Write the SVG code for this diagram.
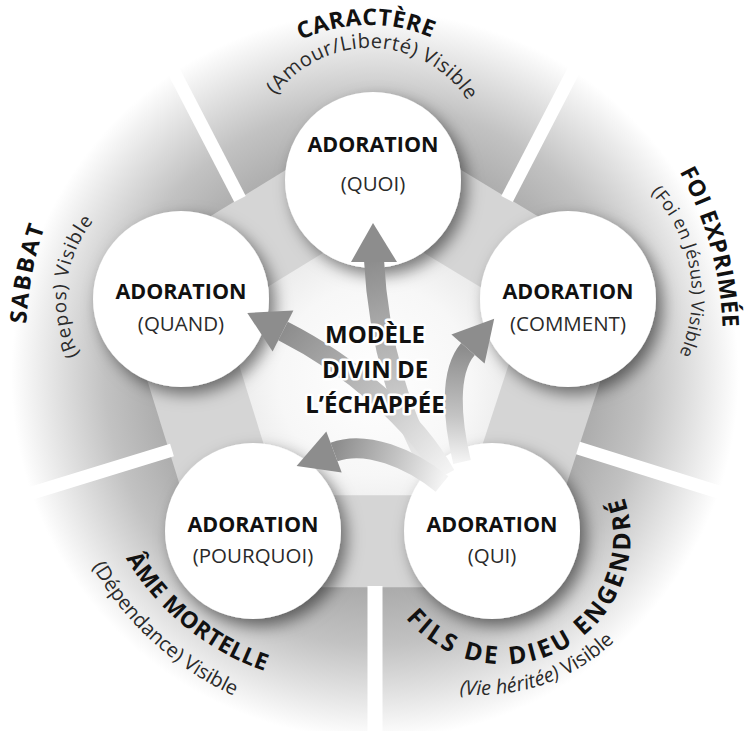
<svg xmlns="http://www.w3.org/2000/svg" width="750" height="731" viewBox="0 0 750 731">
<style>
.title{font-family:"Open Sans","Liberation Sans",sans-serif;font-weight:700;font-size:23px;fill:#111;letter-spacing:0.5px}
.sub{font-family:"Open Sans","Liberation Sans",sans-serif;font-weight:400;font-size:20px;fill:#2a2a2a}
.ad{font-family:"Open Sans","Liberation Sans",sans-serif;font-weight:700;font-size:21.5px;fill:#111;text-anchor:middle}
.q{font-family:"Open Sans","Liberation Sans",sans-serif;font-weight:400;font-size:20.5px;fill:#2a2a2a;text-anchor:middle}
.ctr{font-family:"Open Sans","Liberation Sans",sans-serif;font-weight:700;font-size:24px;fill:#111;text-anchor:middle;stroke:#fff;stroke-width:5px;stroke-linejoin:round;paint-order:stroke}
.node{fill:#fff;filter:url(#sh)}
.gap{stroke:#fff;stroke-width:13;fill:none}
.head{fill:#8d8d8d}
.shaft{fill:none;stroke-linecap:butt}
</style>
<defs>
<radialGradient id="bg" gradientUnits="userSpaceOnUse" cx="375" cy="375" r="375">
<stop offset="0" stop-color="#9c9c9c"/>
<stop offset="0.55" stop-color="#a8a8a8"/>
<stop offset="0.72" stop-color="#c2c2c2"/>
<stop offset="0.86" stop-color="#e4e4e4"/>
<stop offset="0.97" stop-color="#ffffff"/>
</radialGradient>
<radialGradient id="inner" gradientUnits="userSpaceOnUse" cx="375" cy="380" r="160">
<stop offset="0" stop-color="#ffffff"/>
<stop offset="0.6" stop-color="#f7f7f7"/>
<stop offset="1" stop-color="#e6e6e6"/>
</radialGradient>
<filter id="sh" x="-30%" y="-30%" width="170%" height="170%">
<feDropShadow dx="6" dy="7" stdDeviation="8" flood-color="#000" flood-opacity="0.5"/>
</filter>
<linearGradient id="ga1" gradientUnits="userSpaceOnUse" x1="438" y1="478" x2="374" y2="260">
<stop offset="0" stop-color="#f4f4f4"/><stop offset="0.45" stop-color="#c4c4c4"/><stop offset="1" stop-color="#8d8d8d"/>
</linearGradient>
<linearGradient id="ga2" gradientUnits="userSpaceOnUse" x1="445" y1="475" x2="283" y2="331">
<stop offset="0" stop-color="#f4f4f4"/><stop offset="0.45" stop-color="#c4c4c4"/><stop offset="1" stop-color="#8d8d8d"/>
</linearGradient>
<linearGradient id="ga3" gradientUnits="userSpaceOnUse" x1="462" y1="462" x2="468" y2="349">
<stop offset="0" stop-color="#f4f4f4"/><stop offset="0.4" stop-color="#c4c4c4"/><stop offset="1" stop-color="#8d8d8d"/>
</linearGradient>
<linearGradient id="ga4" gradientUnits="userSpaceOnUse" x1="442" y1="484" x2="334" y2="452">
<stop offset="0" stop-color="#f4f4f4"/><stop offset="0.45" stop-color="#c4c4c4"/><stop offset="1" stop-color="#8d8d8d"/>
</linearGradient>
<path id="p-car" d="M 229.9 106.9 A 159 159 0 0 1 505.3 102.1"/>
<path id="p-car2" d="M 255.4 141.3 A 117 117 0 0 1 485.8 148.1"/>
<path id="p-sab" d="M 36.5 425.3 A 350 350 0 0 1 92.5 134.8"/>
<path id="p-sab2" d="M 135.6 411.1 A 125 125 0 0 1 161.4 177.6"/>
<path id="p-foi" d="M 639.9 114.7 A 347 347 0 0 1 718.2 397.3"/>
<path id="p-foi2" d="M 556.9 147.6 A 148 148 0 0 1 606.5 429.1"/>
<path id="p-ame" d="M 93.8 474.6 A 260 260 0 0 0 353.5 685"/>
<path id="p-ame2" d="M 51.3 425.2 A 313 313 0 0 0 378.2 723.7"/>
<path id="p-fils" d="M 394.7 602.6 A 127 127 0 0 0 615.5 477.2"/>
<path id="p-fils2" d="M 379 666.8 A 195 195 0 0 0 661.8 570.5"/>
</defs>

<rect width="750" height="731" fill="#fff"/>
<g id="background">
<circle cx="375" cy="375" r="375" fill="url(#bg)"/>
<polygon points="372.9,116.4 635.1,275.1 532.9,587.2 211.5,587.2 114.6,275.1" fill="#d5d5d5"/>
<polygon points="373.1,222.2 525.2,314.2 465.9,495.2 279.5,495.2 223.3,314.2" fill="url(#inner)"/>
<g id="gaps">
<line class="gap" x1="375" y1="586" x2="375" y2="740" style="stroke-width:15"/>
<line class="gap" x1="240" y1="199" x2="155" y2="35"/>
<line class="gap" x1="507" y1="199" x2="592" y2="35"/>
<line class="gap" x1="172" y1="450" x2="-10" y2="506"/>
<line class="gap" x1="578" y1="448" x2="760" y2="505"/>
</g>
</g>

<g id="node-quoi"><circle class="node" cx="373" cy="180" r="88"/>
<text class="ad" x="373" y="152">ADORATION</text><text class="q" x="373" y="191">(QUOI)</text></g>
<g id="node-quand"><circle class="node" cx="181" cy="299" r="88"/>
<text class="ad" x="181" y="299">ADORATION</text><text class="q" x="181" y="331">(QUAND)</text></g>
<g id="node-comment"><circle class="node" cx="568" cy="299" r="88"/>
<text class="ad" x="568" y="299">ADORATION</text><text class="q" x="568" y="331">(COMMENT)</text></g>
<g id="node-pourquoi"><circle class="node" cx="253" cy="531" r="88"/>
<text class="ad" x="253" y="532">ADORATION</text><text class="q" x="253" y="563">(POURQUOI)</text></g>
<g id="node-qui"><circle class="node" cx="492" cy="531" r="88"/>
<text class="ad" x="492" y="532">ADORATION</text><text class="q" x="492" y="563">(QUI)</text></g>

<g id="connectors">
<path class="shaft" d="M 438 478 C 402 425, 378 340, 374 260" stroke="url(#ga1)" stroke-width="20"/>
<polygon class="head" points="373,223 351,262 397,262"/>
<path class="shaft" d="M 445 475 C 415 420, 350 365, 283 331" stroke="url(#ga2)" stroke-width="21"/>
<polygon class="head" points="247.3,312.9 293.4,310.5 272.6,351.5"/>
<path class="shaft" d="M 462 462 C 452 420, 448 372, 468 349" stroke="url(#ga3)" stroke-width="18"/>
<polygon class="head" points="494.2,318.8 484.6,363.4 451.4,334.6"/>
<path class="shaft" d="M 442 484 C 410 458, 366 440, 334 452" stroke="url(#ga4)" stroke-width="20"/>
<polygon class="head" points="296.6,466 341.7,472.6 326.3,431.4"/>
</g>

<g id="center-label">
<text class="ctr" x="375" y="343">MODÈLE</text>
<text class="ctr" x="375" y="378">DIVIN DE</text>
<text class="ctr" x="375" y="413">L’ÉCHAPPÉE</text>
</g>

<g id="labels">
<text class="title"><textPath href="#p-car" startOffset="50%" text-anchor="middle">CARACTÈRE</textPath></text>
<text class="sub" style="letter-spacing:0.5px"><textPath href="#p-car2" startOffset="50%" text-anchor="middle">(Amour/Liberté) Visible</textPath></text>
<text class="title" style="letter-spacing:2px"><textPath href="#p-sab" startOffset="50%" text-anchor="middle">SABBAT</textPath></text>
<text class="sub" style="font-size:19px;letter-spacing:1px"><textPath href="#p-sab2" startOffset="50%" text-anchor="middle">(Repos) Visible</textPath></text>
<text class="title"><textPath href="#p-foi" startOffset="50%" text-anchor="middle">FOI EXPRIMÉE</textPath></text>
<text class="sub" style="font-size:18px;letter-spacing:0.3px"><textPath href="#p-foi2" startOffset="50%" text-anchor="middle">(Foi en Jésus) Visible</textPath></text>
<text class="title"><textPath href="#p-ame" startOffset="50%" text-anchor="middle">ÂME MORTELLE</textPath></text>
<text class="sub"><textPath href="#p-ame2" startOffset="50%" text-anchor="middle">(Dépendance) Visible</textPath></text>
<text class="title" style="font-size:24.5px;letter-spacing:3px"><textPath href="#p-fils" startOffset="50%" text-anchor="middle">FILS DE DIEU ENGENDRÉ</textPath></text>
<text class="sub"><textPath href="#p-fils2" startOffset="50%" text-anchor="middle"><tspan font-style="italic">(Vie héritée)</tspan> Visible</textPath></text>
</g>
</svg>
